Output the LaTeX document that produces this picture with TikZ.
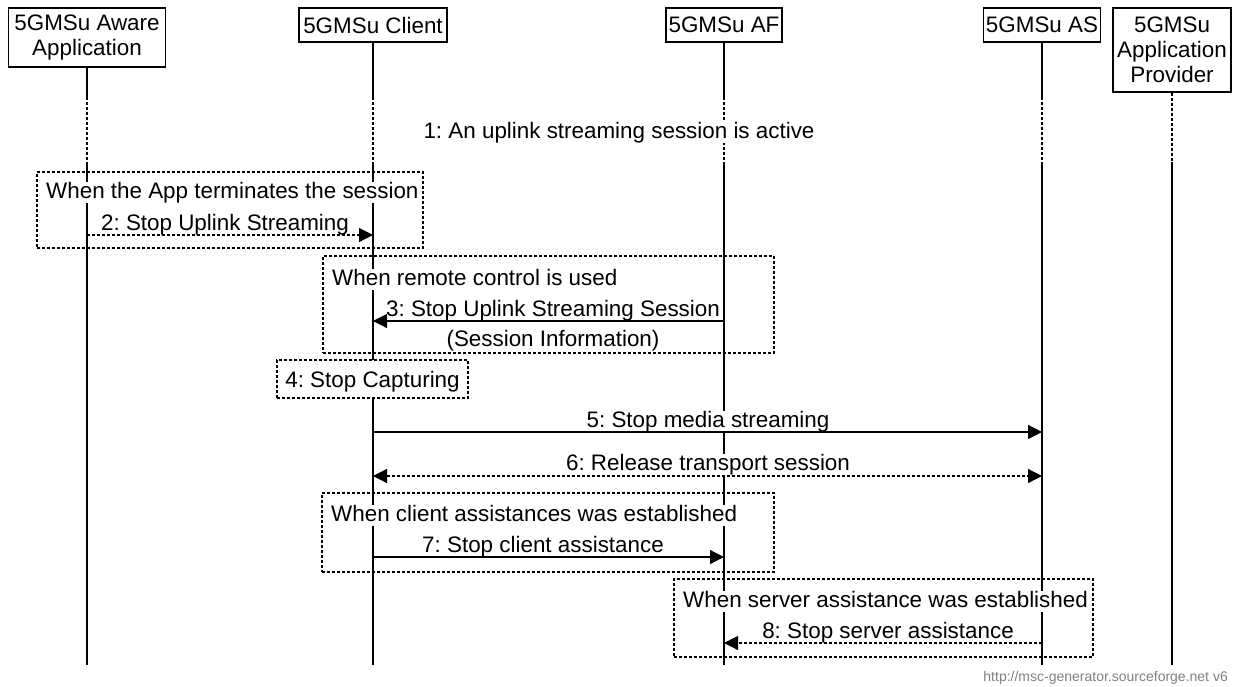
\documentclass[tikz,border=0pt]{standalone}
\usepackage{fontspec}
\setmainfont{Liberation Sans}
\usetikzlibrary{arrows.meta}
\frenchspacing
\begin{document}
\begin{tikzpicture}[x=1pt,y=-1pt,
  every node/.style={font=\fontsize{22.4}{25}\selectfont, inner sep=0pt},
  entity/.style={draw, line width=1.2pt, fill=white, align=center},
  life/.style={line width=1.2pt},
  lifedash/.style={line width=1.2pt, dash pattern=on 3pt off 2pt},
  grp/.style={draw, line width=1.2pt, dash pattern=on 3pt off 2pt},
  lbl/.style={fill=white, text height=16pt, text depth=5pt, inner xsep=1pt, yshift=-2.5pt},
  msg/.style={line width=1.2pt, -{Triangle[length=14pt,width=14pt]}},
  dmsg/.style={line width=1.2pt, dash pattern=on 3pt off 2pt, -{Triangle[length=14pt,width=14pt]}},
  bmsg/.style={line width=1.2pt, dash pattern=on 3pt off 2pt, {Triangle[length=14pt,width=14pt]}-{Triangle[length=14pt,width=14pt]}}
]
\useasboundingbox (0,0) rectangle (1233,686);

% entities
\node[entity, minimum width=157pt, minimum height=59pt] (app) at (87,37.5) {5GMSu Aware\\Application};
\node[entity, minimum width=148pt, minimum height=34pt] (cli) at (373,25) {5GMSu Client};
\node[entity, minimum width=116pt, minimum height=34pt] (af) at (724,25) {5GMSu AF};
\node[entity, minimum width=117pt, minimum height=34pt] (as) at (1042,25) {5GMSu AS};
\node[entity, minimum width=118pt, minimum height=84pt] (prov) at (1172,50) {5GMSu\\Application\\Provider};

% lifeline coordinates
\foreach \n/\x in {app/87,cli/373,af/724,as/1042,prov/1172}{
  \coordinate (\n-a) at (\x,97);
  \coordinate (\n-b) at (\x,162);
  \coordinate (\n-e) at (\x,665);
}
% lifelines
\draw[life] (app.south) -- (app-a);
\draw[life] (cli.south) -- (cli-a);
\draw[life] (af.south) -- (af-a);
\draw[life] (as.south) -- (as-a);
\draw[lifedash] (app-a) -- (app-b);
\draw[lifedash] (cli-a) -- (cli-b);
\draw[lifedash] (af-a) -- (af-b);
\draw[lifedash] (as-a) -- (as-b);
\draw[lifedash] (prov.south) -- (prov-b);
\draw[life] (app-b) -- (app-e);
\draw[life] (cli-b) -- (cli-e);
\draw[life] (af-b) -- (af-e);
\draw[life] (as-b) -- (as-e);
\draw[life] (prov-b) -- (prov-e);

% 1
\node[lbl] (t1) at (619,130) {1: An uplink streaming session is active};

% group boxes
\node[grp, minimum width=386pt, minimum height=76pt] (g2) at (230,210) {};
\node[grp, minimum width=451pt, minimum height=97pt] (g3) at (548.5,304.5) {};
\node[grp, minimum width=452pt, minimum height=79pt] (g7) at (548,532.5) {};
\node[grp, minimum width=419pt, minimum height=78pt] (g8) at (883.5,618) {};

\node[lbl, anchor=west] (g2t) at (45,190) {When the App terminates the session};
\node[lbl, anchor=west] (g3t) at (331,277) {When remote control is used};
\node[lbl, anchor=west] (g7t) at (330,513) {When client assistances was established};
\node[lbl, anchor=west] (g8t) at (682,599) {When server assistance was established};

% 4: box
\node[grp, fill=white, minimum width=191pt, minimum height=38pt, text height=19pt, text depth=2pt] (cap) at (372.5,379) {4: Stop Capturing};

% message coordinates
\coordinate (m2s) at (87,235);   \coordinate (m2e) at (373,235);
\coordinate (m3s) at (724,321);  \coordinate (m3e) at (373,321);
\coordinate (m5s) at (373,432);  \coordinate (m5e) at (1042,432);
\coordinate (m6s) at (373,476);  \coordinate (m6e) at (1042,476);
\coordinate (m7s) at (373,557);  \coordinate (m7e) at (724,557);
\coordinate (m8s) at (1042,643); \coordinate (m8e) at (724,643);

% labels
\node[lbl] (l2) at (225,222) {2: Stop Uplink Streaming};
\node[lbl] (l3) at (553,308) {3: Stop Uplink Streaming Session};
\node[lbl] (l3b) at (553,338) {(Session Information)};
\node[lbl] (l5) at (708,419) {5: Stop media streaming};
\node[lbl] (l6) at (708,462) {6: Release transport session};
\node[lbl] (l7) at (543,544) {7: Stop client assistance};
\node[lbl] (l8) at (888,630) {8: Stop server assistance};

% arrows
\draw[dmsg] (m2s) -- (m2e);
\draw[msg] (m3s) -- (m3e);
\draw[msg] (m5s) -- (m5e);
\draw[bmsg] (m6s) -- (m6e);
\draw[msg] (m7s) -- (m7e);
\draw[dmsg] (m8s) -- (m8e);

% footer
\node[anchor=east, font=\fontsize{14}{16}\selectfont, text=gray] (foot) at (1228,678) {http://msc-generator.sourceforge.net v6};
\end{tikzpicture}
\end{document}
